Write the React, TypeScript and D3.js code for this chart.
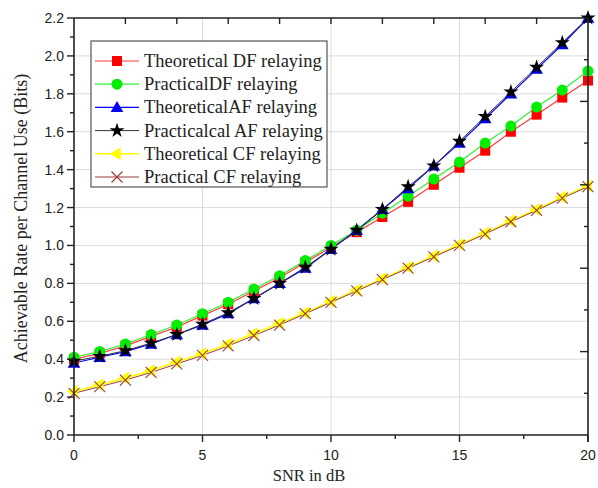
import React from "react";
import * as d3 from "d3";

const snr = [0, 1, 2, 3, 4, 5, 6, 7, 8, 9, 10, 11, 12, 13, 14, 15, 16, 17, 18, 19, 20];
const dfTheoretical = [0.40, 0.43, 0.47, 0.52, 0.57, 0.63, 0.69, 0.76, 0.83, 0.91, 0.99, 1.07, 1.15, 1.23, 1.32, 1.41, 1.50, 1.60, 1.69, 1.78, 1.87];
const dfPractical = [0.41, 0.44, 0.48, 0.53, 0.58, 0.64, 0.70, 0.77, 0.84, 0.92, 1.00, 1.08, 1.17, 1.26, 1.35, 1.44, 1.54, 1.63, 1.73, 1.82, 1.92];
const afTheoretical = [0.38, 0.41, 0.44, 0.48, 0.53, 0.58, 0.64, 0.72, 0.80, 0.88, 0.98, 1.08, 1.19, 1.30, 1.42, 1.54, 1.67, 1.80, 1.93, 2.06, 2.20];
const afPractical = [0.39, 0.415, 0.445, 0.485, 0.53, 0.585, 0.645, 0.72, 0.80, 0.885, 0.98, 1.08, 1.19, 1.31, 1.42, 1.55, 1.68, 1.81, 1.94, 2.07, 2.20];
const cfTheoretical = [0.23, 0.265, 0.30, 0.34, 0.385, 0.43, 0.48, 0.535, 0.59, 0.645, 0.705, 0.765, 0.825, 0.885, 0.945, 1.005, 1.065, 1.13, 1.19, 1.255, 1.315];
const cfPractical = [0.22, 0.255, 0.29, 0.33, 0.375, 0.42, 0.47, 0.525, 0.58, 0.64, 0.70, 0.76, 0.82, 0.88, 0.94, 1.0, 1.06, 1.125, 1.185, 1.25, 1.31];

const seriesNames = [
  "Theoretical DF relaying",
  "PracticalDF relaying",
  "TheoreticalAF relaying",
  "Practicalcal AF relaying",
  "Theoretical CF relaying",
  "Practical CF relaying",
];

const xTicks = [0, 5, 10, 15, 20];
const yTicks = [0, 0.2, 0.4, 0.6, 0.8, 1.0, 1.2, 1.4, 1.6, 1.8, 2.0, 2.2];

type Marker = "square" | "circle" | "triangle" | "star" | "left" | "x";

const series: { name: string; values: number[]; line: string; fill: string; marker: Marker; lw: number }[] = [
  { name: seriesNames[0], values: dfTheoretical, line: "#ff3b3b", fill: "#ff0000", marker: "square", lw: 1.2 },
  { name: seriesNames[1], values: dfPractical, line: "#33ee33", fill: "#00ee00", marker: "circle", lw: 1.2 },
  { name: seriesNames[2], values: afTheoretical, line: "#0000ff", fill: "#0000ff", marker: "triangle", lw: 1.2 },
  { name: seriesNames[3], values: afPractical, line: "#333333", fill: "#000000", marker: "star", lw: 1.0 },
  { name: seriesNames[4], values: cfTheoretical, line: "#ffff00", fill: "#ffff00", marker: "left", lw: 1.6 },
  { name: seriesNames[5], values: cfPractical, line: "#9b3b3b", fill: "#9b3b3b", marker: "x", lw: 1.0 },
];

const W = 598;
const H = 488;
const L = 74, R = 588, T = 18, B = 435;

function MarkerShape({ m, x, y, fill }: { m: Marker; x: number; y: number; fill: string }) {
  if (m === "square") return <rect x={x - 5} y={y - 5} width={10} height={10} fill={fill} />;
  if (m === "circle") return <circle cx={x} cy={y} r={5.5} fill={fill} />;
  if (m === "triangle") {
    const p = d3.symbol().type(d3.symbolTriangle).size(70)();
    return <path d={p as string} transform={`translate(${x},${y + 1})`} fill={fill} />;
  }
  if (m === "star") {
    const p = d3.symbol().type(d3.symbolStar).size(70)();
    return <path d={p as string} transform={`translate(${x},${y})`} fill={fill} />;
  }
  if (m === "left") {
    const p = d3.symbol().type(d3.symbolTriangle).size(70)();
    return <path d={p as string} transform={`translate(${x},${y}) rotate(-90)`} fill={fill} />;
  }
  const s = 5.5;
  return (
    <g stroke={fill} strokeWidth={1.1}>
      <line x1={x - s} y1={y - s} x2={x + s} y2={y + s} />
      <line x1={x - s} y1={y + s} x2={x + s} y2={y - s} />
    </g>
  );
}

export default function App() {
  const x = d3.scaleLinear().domain([0, 20]).range([L, R]);
  const y = d3.scaleLinear().domain([0, 2.2]).range([B, T]);
  const line = (vals: number[]) =>
    d3.line<number>().x((_, i) => x(snr[i])).y((v) => y(v))(vals) as string;

  const xMinor = d3.range(0, 20.01, 2.5).filter((v) => v % 5 !== 0);
  const yMinor = d3.range(0.1, 2.2, 0.2);
  const topTicks = d3.range(2, 20, 2);
  const rightTicks = d3.range(1, 10).map((k) => ({ v: k * 0.22, major: k % 2 === 0 }));

  const sans = "'Liberation Sans', Arial, sans-serif";
  const serif = "'Liberation Serif', 'Times New Roman', serif";

  const legX = 91, legY = 41, legW = 236, legH = 146;
  const legRow0 = 61, legStep = 23.2;

  return (
    <svg width={W} height={H} style={{ position: "absolute", left: 0, top: 0, background: "#fff" }}>
      <rect width={W} height={H} fill="#fff" />
      {/* grid */}
      <g stroke="#dcdcdc" strokeWidth={1}>
        {xTicks.filter((v) => v > 0 && v < 20).map((v) => (
          <line key={"gx" + v} x1={x(v)} x2={x(v)} y1={T} y2={B} />
        ))}
        {yTicks.filter((v) => v > 0 && v < 2.2).map((v) => (
          <line key={"gy" + v} x1={L} x2={R} y1={y(v)} y2={y(v)} />
        ))}
      </g>
      {/* series lines */}
      {series.map((s) => (
        <path key={"l" + s.name} d={line(s.values)} fill="none" stroke={s.line} strokeWidth={s.lw} />
      ))}
      {/* markers */}
      {series.map((s) => (
        <g key={"m" + s.name}>
          {s.values.map((v, i) => (
            <MarkerShape key={i} m={s.marker} x={x(snr[i])} y={y(v)} fill={s.fill} />
          ))}
        </g>
      ))}
      {/* axes frame */}
      <g stroke="#222" strokeWidth={1.6} fill="none">
        <line x1={L} x2={R} y1={B} y2={B} />
        <line x1={L} x2={L} y1={T} y2={B} />
        <line x1={L} x2={R} y1={T} y2={T} />
        <line x1={R} x2={R} y1={T} y2={B + 7} />
      </g>
      <g stroke="#222" strokeWidth={1.4}>
        {xTicks.map((v) => (
          <line key={"xt" + v} x1={x(v)} x2={x(v)} y1={B} y2={B + 7} />
        ))}
        {xMinor.map((v) => (
          <line key={"xm" + v} x1={x(v)} x2={x(v)} y1={B} y2={B + 4} />
        ))}
        {yTicks.map((v) => (
          <line key={"yt" + v} x1={L - 7} x2={L} y1={y(v)} y2={y(v)} />
        ))}
        {yMinor.map((v) => (
          <line key={"ym" + v} x1={L - 4} x2={L} y1={y(v)} y2={y(v)} />
        ))}
        {topTicks.map((v) => (
          <line key={"tt" + v} x1={x(v)} x2={x(v)} y1={T} y2={T + 6} />
        ))}
        {rightTicks.map((t) => (
          <line key={"rt" + t.v} x1={R - (t.major ? 8 : 4)} x2={R} y1={y(t.v)} y2={y(t.v)} />
        ))}
      </g>
      {/* tick labels */}
      <g fontFamily={sans} fontSize={14} fill="#222">
        {xTicks.map((v) => (
          <text key={"xl" + v} x={x(v)} y={460} textAnchor="middle">{v}</text>
        ))}
        {yTicks.map((v) => (
          <text key={"yl" + v} x={L - 10} y={y(v) + 5} textAnchor="end">{v.toFixed(1)}</text>
        ))}
      </g>
      {/* axis titles */}
      <text x={309} y={481} textAnchor="middle" fontFamily={serif} fontSize={16.5} fill="#222">SNR in dB</text>
      <text transform={`translate(27,${(T + B) / 2 - 8}) rotate(-90)`} textAnchor="middle" fontFamily={serif} fontSize={18} fill="#222">
        Achievable Rate per Channel Use (Bits)
      </text>
      {/* legend */}
      <rect x={legX} y={legY} width={legW} height={legH} fill="#fff" stroke="#555" strokeWidth={1.2} />
      {series.map((s, i) => {
        const ly = legRow0 + i * legStep;
        return (
          <g key={"lg" + s.name}>
            <line x1={95} x2={139} y1={ly} y2={ly} stroke={s.line} strokeWidth={s.lw} />
            <MarkerShape m={s.marker} x={117} y={ly} fill={s.fill} />
            <text x={144} y={ly + 6} fontFamily={serif} fontSize={18.5} fill="#222">{s.name}</text>
          </g>
        );
      })}
    </svg>
  );
}
